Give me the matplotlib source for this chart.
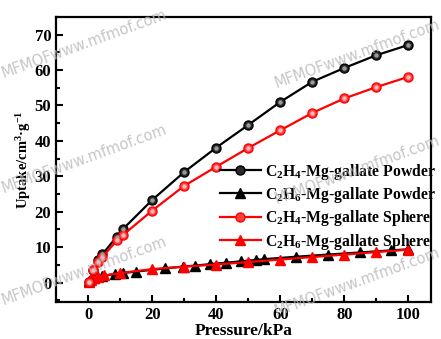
import matplotlib
matplotlib.use('Agg')
import matplotlib.pyplot as plt
from matplotlib.ticker import MultipleLocator

plt.rcParams['font.family'] = 'Liberation Serif'
plt.rcParams['font.weight'] = 'bold'
plt.rcParams['mathtext.fontset'] = 'custom'
plt.rcParams['mathtext.rm'] = 'Liberation Serif:bold'
plt.rcParams['mathtext.it'] = 'Liberation Serif:bold'
plt.rcParams['mathtext.default'] = 'rm'

# isothermes C2H4 (kPa, cm3/g)
p_c2h4 = [0.3, 1.5, 3, 4.5, 9, 11, 20, 30, 40, 50, 60, 70, 80, 90, 100]
c2h4_powder = [0.3, 3.5, 6.3, 8.0, 13.0, 15.2, 23.3, 31.2, 38.1, 44.5, 51.0, 56.7, 60.6, 64.2, 67.1]
c2h4_sphere = [0.2, 3.6, 5.8, 7.2, 11.9, 13.5, 20.3, 27.3, 32.7, 38.0, 43.0, 47.9, 52.0, 55.2, 58.1]

# isothermes C2H6
p_c2h6_powder = [0.3, 2, 4.5, 8.5, 11, 15, 24, 29.5, 33.5, 38, 43, 47.7, 52.5, 54.8, 65, 74.8, 84.8, 94.7, 100]
c2h6_powder = [0.5, 1.2, 1.9, 2.4, 2.7, 3.1, 4.0, 4.5, 4.8, 5.2, 5.6, 6.0, 6.4, 6.6, 7.3, 7.9, 8.5, 9.1, 9.4]
p_c2h6_sphere = [0.3, 1, 2, 3, 5, 10, 20, 30, 40, 50, 60, 70, 80, 90, 100]
c2h6_sphere = [0.2, 0.8, 1.2, 1.6, 2.0, 2.7, 3.8, 4.5, 5.1, 5.8, 6.5, 7.2, 7.9, 8.6, 9.3]

labels = ['C$_2$H$_4$-Mg-gallate Powder', 'C$_2$H$_6$-Mg-gallate Powder',
          'C$_2$H$_4$-Mg-gallate Sphere', 'C$_2$H$_6$-Mg-gallate Sphere']

fig = plt.figure(figsize=(4.41, 3.39), dpi=100)
ax = fig.add_axes([0.127, 0.109, 0.85, 0.841])

# filigrane
for x, y in [(0.19, 0.87), (0.81, 0.84), (0.19, 0.53), (0.81, 0.50), (0.19, 0.20), (0.81, 0.17)]:
    fig.text(x, y, 'MFMOFwww.mfmof.com', family='DejaVu Sans', fontweight='normal', fontsize=10.5,
             color='#b8b8b8', alpha=0.8, rotation=20, ha='center', va='center', zorder=10)

lw = 1.6
ax.plot(p_c2h6_powder, c2h6_powder, '-^', color='black', lw=lw, ms=6.5, label=labels[1], zorder=2)
ax.plot(p_c2h6_sphere, c2h6_sphere, '-^', color='red', lw=lw, ms=7.5, label=labels[3], zorder=3)
ax.plot(p_c2h4, c2h4_powder, '-o', color='black', mfc='#2a2a2a', mec='black', lw=lw, ms=6.5,
        label=labels[0], zorder=4)
ax.plot(p_c2h4, c2h4_powder, 'o', color='#9a9a9a', ms=2.2, zorder=5)
ax.plot(p_c2h4, c2h4_sphere, '-o', color='red', mfc='#ff4040', mec='red', lw=lw, ms=6.5,
        label=labels[2], zorder=4)
ax.plot(p_c2h4, c2h4_sphere, 'o', color='#ffb8b8', ms=2.2, zorder=5)

ax.set_xlim(-10, 107)
ax.set_ylim(-5.5, 75)
ax.xaxis.set_major_locator(MultipleLocator(20))
ax.xaxis.set_minor_locator(MultipleLocator(10))
ax.yaxis.set_major_locator(MultipleLocator(10))
ax.yaxis.set_minor_locator(MultipleLocator(5))
ax.tick_params(which='both', direction='in', top=False, right=False, labelsize=12, width=1.5)
ax.tick_params(which='major', length=5)
ax.tick_params(which='minor', length=3)
for s in ax.spines.values():
    s.set_linewidth(1.6)

ax.set_xlabel('Pressure/kPa', fontsize=12.5, fontweight='bold', labelpad=0)
ax.set_ylabel('Uptake/cm$^3$·g$^{-1}$', fontsize=10.5, fontweight='bold', labelpad=1)

h, l = ax.get_legend_handles_labels()
order = [2, 0, 3, 1]
ax.legend([h[i] for i in order], [l[i] for i in order], loc='upper left',
          bbox_to_anchor=(0.42, 0.515), frameon=False, fontsize=11.3, handlelength=2.6,
          handletextpad=0.3, labelspacing=0.22, borderaxespad=0)

fig.savefig('out.png', dpi=100)
